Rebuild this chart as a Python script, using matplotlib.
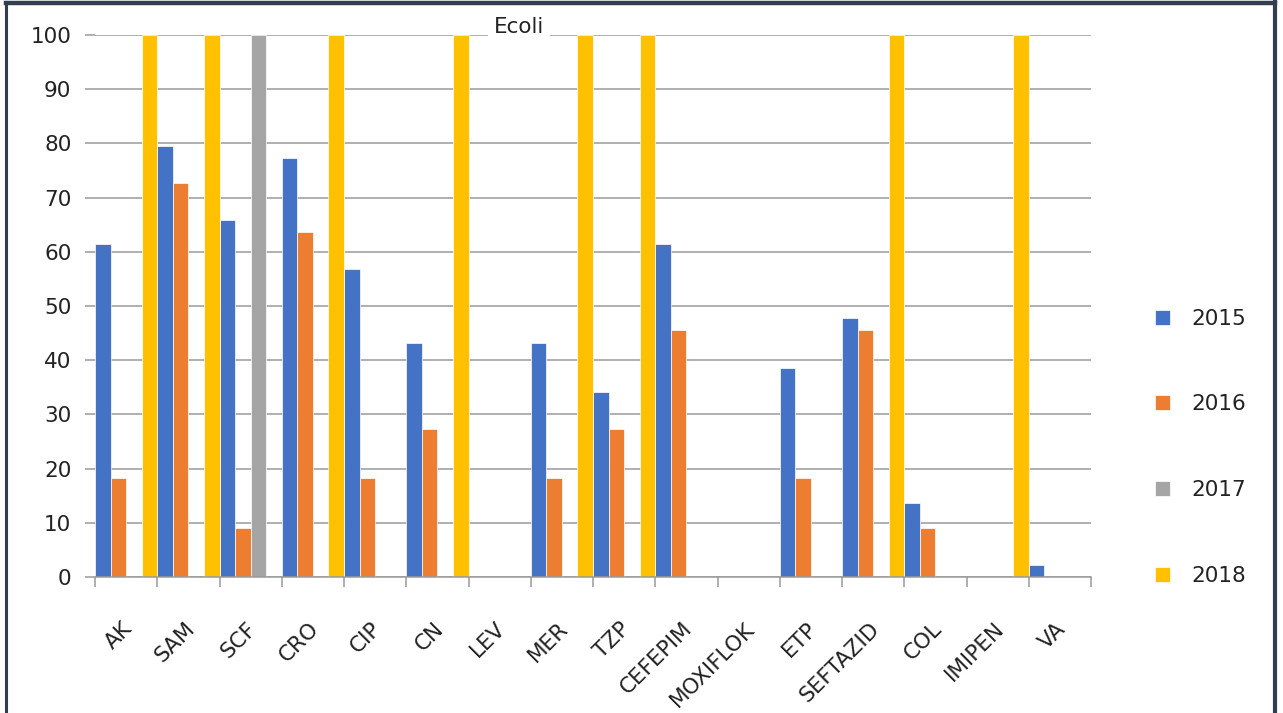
import numpy as np
import matplotlib
matplotlib.use("Agg")
import matplotlib.pyplot as plt
import matplotlib.transforms as mtransforms
from matplotlib.lines import Line2D

# Antibiotic resistance rates (%) for E. coli by year
categories = ["AK", "SAM", "SCF", "CRO", "CIP", "CN", "LEV", "MER", "TZP",
              "CEFEPIM", "MOXIFLOK", "ETP", "SEFTAZID", "COL", "IMIPEN", "VA"]
years = ["2015", "2016", "2017", "2018"]
vals_2015 = [61.4, 79.5, 65.9, 77.3, 56.8, 43.2, 0, 43.2, 34.1, 61.4, 0, 38.6, 47.7, 13.6, 0, 2.3]
vals_2016 = [18.2, 72.7, 9.1, 63.6, 18.2, 27.3, 0, 18.2, 27.3, 45.5, 0, 18.2, 45.5, 9.1, 0, 0]
vals_2017 = [0, 0, 100, 0, 0, 0, 0, 0, 0, 0, 0, 0, 0, 0, 0, 0]
vals_2018 = [100, 100, 0, 100, 0, 100, 0, 100, 100, 0, 0, 0, 100, 0, 100, 0]
series = [vals_2015, vals_2016, vals_2017, vals_2018]
colors = ["#4472C4", "#ED7D31", "#A5A5A5", "#FFC000"]
yticks = list(range(0, 101, 10))

W, H = 1283, 713
fig = plt.figure(figsize=(W / 100, H / 100), dpi=100)
plt.rcParams["font.family"] = ["DejaVu Sans"]

left, right, top, bottom = 95, 1091, 35, 577
ax = fig.add_axes([left / W, 1 - bottom / H, (right - left) / W, (bottom - top) / H])

x = np.arange(len(categories))
bw = 0.25
handles = []
for i, (vals, col, yr) in enumerate(zip(series, colors, years)):
    offs = (i - 1.5) * bw
    b = ax.bar(x + offs, vals, width=bw, color=col, edgecolor="white",
               linewidth=0.5, label=yr, zorder=2)
    handles.append(b)

ax.set_xlim(-0.5, len(categories) - 0.5)
ax.set_ylim(0, 100)
ax.set_axisbelow(True)

grid_col = "#9a9a9a"
ax.yaxis.grid(True, color=grid_col, linewidth=1.1)
ax.set_yticks(yticks)
ax.set_yticklabels([str(v) for v in yticks], fontsize=15.5, color="#222222")
ax.tick_params(axis="y", length=7, width=1.1, color=grid_col, pad=10)

for s in ["left", "right", "top"]:
    ax.spines[s].set_visible(False)
ax.spines["bottom"].set_color(grid_col)
ax.spines["bottom"].set_linewidth(1.1)

# category boundary ticks on the x axis
ax.set_xticks(np.arange(len(categories) + 1) - 0.5, minor=True)
ax.tick_params(axis="x", which="minor", length=7, width=1.1, color=grid_col)
ax.set_xticks(x)
ax.set_xticklabels(categories, fontsize=15.5, color="#222222", rotation=45,
                   ha="right", va="center", rotation_mode="anchor")
ax.tick_params(axis="x", which="major", length=0, pad=35)
shift = mtransforms.ScaledTranslation(3 / 100, 0, fig.dpi_scale_trans)
for lab in ax.get_xticklabels():
    lab.set_transform(lab.get_transform() + shift)

# chart title sitting on the top gridline
fig.text(519 / W, 1 - 27 / H, "Ecoli", ha="center", va="center", fontsize=15.5,
         color="#222222",
         bbox=dict(boxstyle="square,pad=0.25", facecolor="white", edgecolor="none"))

leg = fig.legend(handles=handles, labels=years, loc="upper left",
                 bbox_to_anchor=(1144 / W, 1 - 298 / H), frameon=False,
                 fontsize=15.5, handlelength=0.7, handleheight=0.7,
                 handletextpad=1.0, labelspacing=3.05, borderpad=0)
for t in leg.get_texts():
    t.set_color("#222222")

# outer frame
frame_col = "#333F50"
fig.add_artist(Line2D([6 / W, 6 / W], [0, 1 - 2 / H], transform=fig.transFigure,
                      color=frame_col, linewidth=2.2))
fig.add_artist(Line2D([6 / W, 1275 / W], [1 - 3 / H, 1 - 3 / H], transform=fig.transFigure,
                      color=frame_col, linewidth=3.2))
fig.add_artist(Line2D([1275 / W, 1275 / W], [0, 1 - 2 / H], transform=fig.transFigure,
                      color=frame_col, linewidth=3.0))

fig.savefig("out.png", dpi=100)
